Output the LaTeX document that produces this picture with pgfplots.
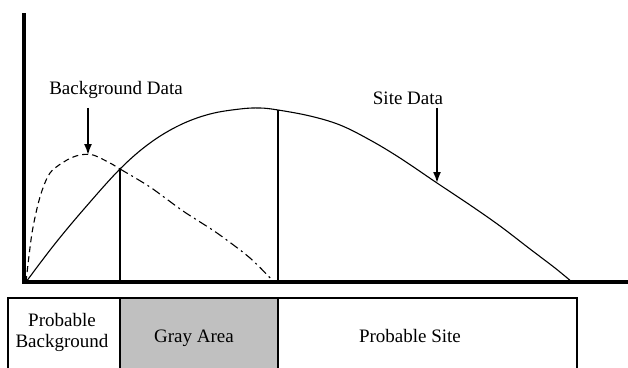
\documentclass[border=0pt]{standalone}
\usepackage{pgfplots}
\pgfplotsset{compat=1.18}
\usepackage{fontspec}
\setmainfont{Liberation Serif}
\usetikzlibrary{arrows.meta}

\begin{document}
\begin{tikzpicture}
\begin{axis}[
    scale only axis,
    width=604pt, height=267pt,
    xmin=0, xmax=604,
    ymin=0, ymax=267,
    axis lines=left,
    axis line style={line width=4.5pt, -, line cap=rect},
    ticks=none,
    clip=false,
    font=\fontsize{19}{22}\selectfont,
]
% site data
\addplot[black, line width=1.1pt, smooth, tension=0.6] coordinates {
    (2,0) (30,37) (60,73) (96,113) (126,139) (156,157) (186,168) (216,173)
    (236,174) (254,172) (286,166) (316,157) (346,142) (376,124) (413,99)
    (446,77) (476,56) (506,33) (531,14) (548,0)
};
% background data, rising part
\addplot[black, line width=1.1pt, smooth, tension=0.5, dash pattern=on 6pt off 4pt] coordinates {
    (2,0) (8,49) (16,85) (26,109) (43,122) (56,127) (69,127) (86,119) (96,113)
};
% background data, falling part
\addplot[black, line width=1.1pt, smooth, tension=0.5, dash pattern=on 9pt off 4pt on 2pt off 4pt] coordinates {
    (96,113) (126,95) (159,71) (193,49) (226,24) (250,0)
};
% cut-off lines
\addplot[black, line width=1.2pt] coordinates {(96,0) (96,113)};
\addplot[black, line width=1.2pt] coordinates {(254,0) (254,172)};

% labels and arrows
\draw[line width=1.8pt, -{Latex[length=11pt,width=8pt]}] (axis cs:64,174) -- (axis cs:64,127);
\draw[line width=1.8pt, -{Latex[length=11pt,width=8pt]}] (axis cs:413,174) -- (axis cs:413,99);
\node[anchor=base] at (axis cs:92,187) {Background Data};
\node[anchor=base] at (axis cs:384,178) {Site Data};

% classification strip
\fill[fill={rgb,255:red,192;green,192;blue,192}] (axis cs:96,-16) rectangle (axis cs:254,-90);
\draw[line width=1.6pt] (axis cs:-16,-90) -- (axis cs:-16,-16) -- (axis cs:553,-16) -- (axis cs:553,-90);
\draw[line width=2.4pt] (axis cs:96,-16) -- (axis cs:96,-90);
\draw[line width=2.4pt] (axis cs:254,-16) -- (axis cs:254,-90);
\node[anchor=base] at (axis cs:38,-44) {Probable};
\node[anchor=base] at (axis cs:38,-65) {Background};
\node[anchor=base] at (axis cs:170,-60) {Gray Area};
\node[anchor=base] at (axis cs:386,-60) {Probable Site};

\coordinate (bl) at (axis cs:-24,-85);
\coordinate (tr) at (axis cs:604,282);
\end{axis}
\pgfresetboundingbox
\useasboundingbox (bl) rectangle (tr);
\end{tikzpicture}
\end{document}
